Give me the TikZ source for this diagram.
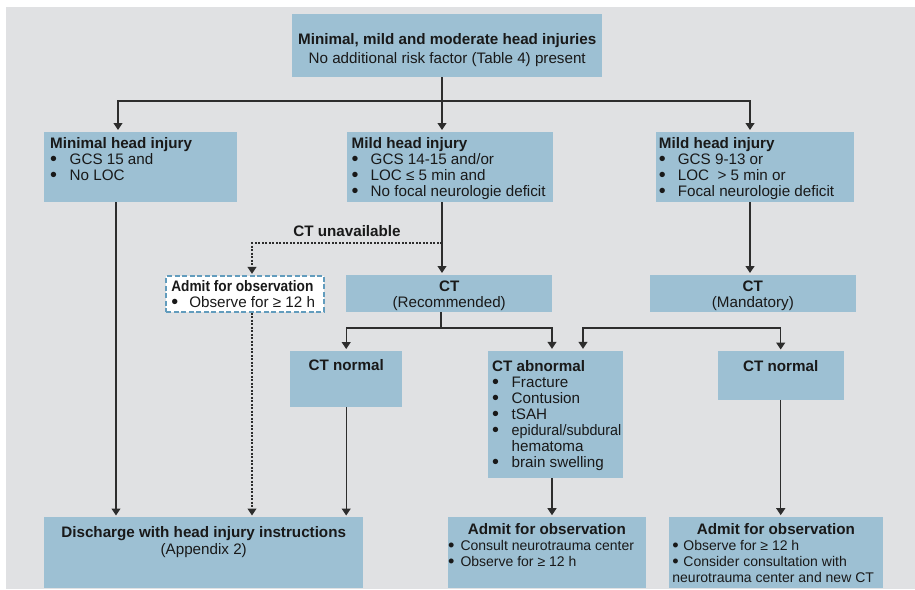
\documentclass[tikz,border=0pt]{standalone}
\usepackage{fontspec}
\usepackage{graphicx}
\setmainfont{Liberation Sans}
\usetikzlibrary{arrows.meta}
\definecolor{bgray}{RGB}{224,225,227}
\definecolor{boxblue}{RGB}{157,192,211}
\definecolor{dashblue}{RGB}{98,156,189}
\definecolor{lncol}{RGB}{45,45,45}
\definecolor{txcol}{RGB}{25,25,25}
\newcommand{\fsz}{\fontsize{15.2}{16}\selectfont}
\newcommand{\fsm}{\fontsize{14}{16}\selectfont}
\newcommand{\fl}{\rule{0pt}{12pt}}
\newcommand{\cbox}[4]{\parbox[c][#2pt][t]{#1pt}{\vspace*{#3pt}\fl #4}}
\newcommand{\bul}[1]{\makebox[#1pt][l]{\raisebox{-0.9pt}{\scalebox{1.3}{•}}}}
\begin{document}
\begin{tikzpicture}[x=1pt,y=-1pt,
  blk/.style={fill=boxblue, inner sep=0pt, anchor=north west, font=\fsz, text=txcol},
  dbox/.style={blk, fill=white, draw=dashblue, line width=2pt, dash pattern=on 5pt off 2.5pt},
  conn/.style={draw=lncol, line width=1.2pt},
  arr/.style={conn, -{Triangle[width=9pt,length=7pt]}, shorten >=1.5pt},
  dotconn/.style={draw=lncol, line width=1.2pt, dash pattern=on 2pt off 1.5pt},
  darr/.style={dotconn, -{Triangle[width=9pt,length=7pt]}, shorten >=1.5pt},
  lbl/.style={font=\fsz\bfseries, text=txcol, inner sep=0pt, anchor=base}]
\useasboundingbox (0,0) rectangle (915,589);
\fill[bgray] (6,7) rectangle (915,589);

% boxes
\node[blk] (top) at (292,14) {\cbox{310}{63}{18.5}{\centering\textbf{Minimal, mild and moderate head injuries}\\[3pt] No additional risk factor (Table 4) present}};

\node[blk] (minimal) at (44,131.5) {\cbox{193}{70.5}{4.5}{\raggedright\leftskip=6pt\textbf{Minimal head injury}\\ \bul{19.5}GCS 15 and\\ \bul{19.5}No LOC}};

\node[blk] (mild) at (347,131.5) {\cbox{206}{70.5}{4.5}{\raggedright\leftskip=4.5pt\textbf{Mild head injury}\\ \bul{19}GCS 14-15 and/or\\ \bul{19}LOC ≤ 5 min and\\ \bul{19}No focal neurologie deficit}};

\node[blk] (moderate) at (655.7,131.5) {\cbox{198.3}{70.5}{4.5}{\raggedright\leftskip=3pt\textbf{Mild head injury}\\ \bul{19}GCS 9-13 or\\ \bul{19}LOC \ > 5 min or\\ \bul{19}Focal neurologie deficit}};

\node[dbox] (obs) at (165.3,275.3) {\cbox{157.7}{35.4}{3.2}{\raggedright\leftskip=5pt\scalebox{0.9}[1]{\textbf{Admit for observation}}\\ \bul{18}Observe for ≥ 12 h}};

\node[blk] (ctrec) at (346,274.5) {\cbox{206}{37.2}{5.2}{\centering\textbf{CT}\\ (Recommended)}};

\node[blk] (ctman) at (650,274.5) {\cbox{205.3}{37.2}{5.2}{\centering\textbf{CT}\\ (Mandatory)}};

\node[blk] (ctn1) at (290,350.5) {\cbox{112}{56.2}{8}{\centering\textbf{CT normal}}};

\node[blk] (ctab) at (488,350.3) {\cbox{134.3}{127.7}{8.7}{\raggedright\leftskip=4pt\textbf{CT abnormal}\\ \bul{19.5}Fracture\\ \bul{19.5}Contusion\\ \bul{19.5}tSAH\\ \bul{19.5}\scalebox{0.94}[1]{epidural/subdural}\\ \hspace*{19.5pt}hematoma\\ \bul{19.5}brain swelling}};

\node[blk] (ctn2) at (717.7,351) {\cbox{125.6}{48.5}{8}{\centering\textbf{CT normal}}};

\node[blk] (dis) at (44,517) {\cbox{319}{70.7}{8.7}{\centering\textbf{Discharge with head injury instructions}\\[0.3pt] (Appendix 2)}};

\node[blk] (adm1) at (447.3,516.7) {\cbox{198.7}{71.3}{5.3}{{\centering\textbf{Admit for observation}\par}\raggedright\leftskip=0.5pt\fsm \bul{12.5}Consult neurotrauma center\\ \bul{12.5}Observe for ≥ 12 h}};

\node[blk] (adm2) at (668.7,516.7) {\cbox{214}{71.3}{5.3}{{\centering\textbf{Admit for observation}\par}\raggedright\leftskip=3.5pt\fsm \bul{11}Observe for ≥ 12 h\\ \bul{11}Consider consultation with\\ neurotrauma center and new CT}};

\node[lbl] (unav) at (347,236.7) {CT unavailable};

% helper coordinates
\coordinate (c1) at (442,101);
\coordinate (cl) at (118,101);
\coordinate (cr) at (750,101);
\coordinate (x116) at (116,0);
\coordinate (d1) at (442,243);
\coordinate (d2) at (252,243);
\coordinate (e1) at (441,328);
\coordinate (e2) at (552,328);
\coordinate (f1) at (681,328);
\coordinate (f2) at (583,328);

% connectors
\draw[arr] (top.south -| c1) -- (mild.north -| c1);
\draw[arr] (c1) -| (minimal.north -| cl);
\draw[arr] (c1) -| (moderate.north -| cr);
\draw[arr] (minimal.south -| x116) -- (dis.north -| x116);
\draw[arr] (mild.south -| c1) -- (ctrec.north -| c1);
\draw[darr] (d1) -| (obs.north -| d2);
\draw[darr] (obs.south -| d2) -- (dis.north -| d2);
\draw[arr] (moderate.south -| cr) -- (ctman.north -| cr);
\draw[conn] (ctrec.south -| e1) -- (e1);
\draw[arr] (e1) -| (ctn1.north);
\draw[arr] (e1) -| (ctab.north -| e2);
\draw[arr] (f1) -| (ctab.north -| f2);
\draw[arr] (f1) -| (ctn2.north);
\draw[arr] (ctn1.south) -- (dis.north -| ctn1.south);
\draw[arr] (ctab.south -| e2) -- (adm1.north -| e2);
\draw[arr] (ctn2.south) -- (adm2.north -| ctn2.south);
\end{tikzpicture}
\end{document}
